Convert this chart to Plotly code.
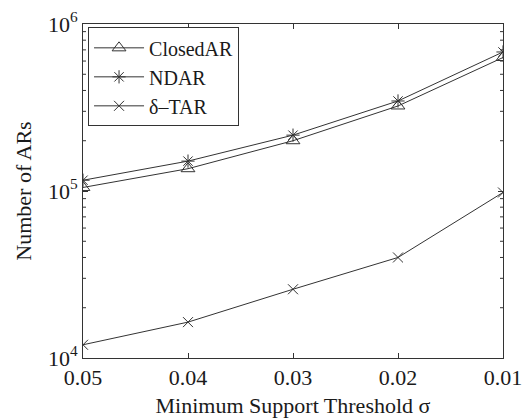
import plotly.graph_objects as go

support = [0.05, 0.04, 0.03, 0.02, 0.01]
tick_labels = ["0.05", "0.04", "0.03", "0.02", "0.01"]
closed_ar = [105000, 136000, 200000, 323000, 630000]
ndar = [116000, 151000, 216000, 346000, 680000]
delta_tar = [12000, 16400, 25800, 40000, 98000]
y_major = [1e4, 1e5, 1e6]
y_major_labels = ["10<sup>4</sup>", "10<sup>5</sup>", "10<sup>6</sup>"]
y_minor = [m * 10 ** e for e in (4, 5) for m in range(2, 10)]

line_color = "#333333"
font_family = "Liberation Serif, Times New Roman, serif"

fig = go.Figure()
fig.add_trace(go.Scatter(x=support, y=closed_ar, name="ClosedAR", mode="lines+markers",
                         line=dict(color=line_color, width=1),
                         marker=dict(symbol="triangle-up-open", size=12, color=line_color,
                                     line=dict(width=1, color=line_color))))
fig.add_trace(go.Scatter(x=support, y=ndar, name="NDAR", mode="lines+markers",
                         line=dict(color=line_color, width=1),
                         marker=dict(symbol="asterisk-open", size=11, color=line_color,
                                     line=dict(width=1, color=line_color))))
fig.add_trace(go.Scatter(x=support, y=delta_tar, name="δ\u2013TAR", mode="lines+markers",
                         line=dict(color=line_color, width=1),
                         marker=dict(symbol="x-thin-open", size=10, color=line_color,
                                     line=dict(width=1, color=line_color))))

# minor log ticks drawn inside the frame on the left and right edges
tick_frac = 3 / 420
for v in y_minor:
    for x0, x1 in ((0, tick_frac), (1 - tick_frac, 1)):
        fig.add_shape(type="line", xref="paper", yref="y", x0=x0, x1=x1, y0=v, y1=v,
                      line=dict(color=line_color, width=1), layer="above")

fig.update_layout(
    width=528, height=419,
    margin=dict(l=83, r=25, t=24, b=61),
    paper_bgcolor="white", plot_bgcolor="white",
    font=dict(family=font_family, color="#1a1a1a", size=20),
    showlegend=True,
    legend=dict(x=0.012, y=0.99, xanchor="left", yanchor="top",
                bordercolor="#333333", borderwidth=1, bgcolor="white",
                font=dict(size=20, family=font_family), tracegroupgap=0,
                itemwidth=50),
)
fig.update_xaxes(
    range=[0.05, 0.01], tickmode="array", tickvals=support, ticktext=tick_labels,
    ticks="inside", ticklen=5, tickcolor="#333333",
    showline=True, linecolor="#333333", linewidth=1, mirror="allticks",
    showgrid=False, zeroline=False, automargin=False,
    tickfont=dict(size=22),
    title=dict(text="Minimum Support Threshold σ", font=dict(size=22), standoff=8),
)
fig.update_yaxes(
    type="log", range=[4, 6], tickmode="array", tickvals=y_major, ticktext=y_major_labels,
    ticks="inside", ticklen=5, tickcolor="#333333",
    showline=True, linecolor="#333333", linewidth=1, mirror="allticks",
    showgrid=False, zeroline=False, automargin=False,
    tickfont=dict(size=22),
    title=dict(text="Number of ARs", font=dict(size=22), standoff=10),
)

fig.write_html("out.html", config={"displayModeBar": False},
               post_script="document.body.style.margin='0';document.body.style.padding='0';")
